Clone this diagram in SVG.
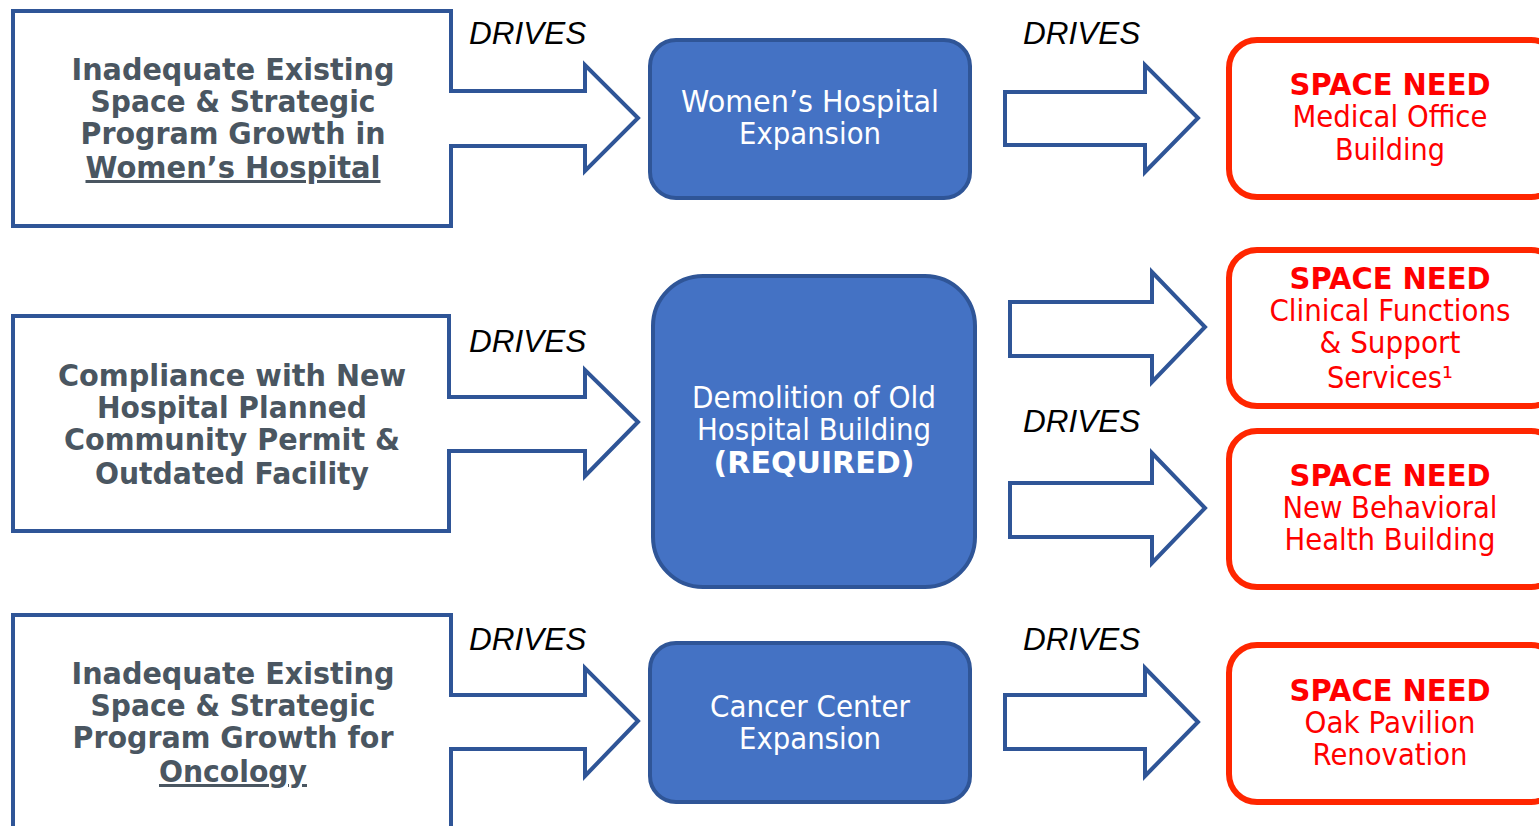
<svg xmlns="http://www.w3.org/2000/svg" width="1539" height="826" viewBox="0 0 1539 826">
<style>
.src{fill:#fff;stroke:#2F5597;stroke-width:4;stroke-linejoin:miter}
.arr{fill:#fff;stroke:#2F5597;stroke-width:4}
.blue{fill:#4472C4;stroke:#2F5597;stroke-width:4}
.red{fill:#fff;stroke:#FF2600;stroke-width:6}
.lt{font-family:"DejaVu Sans",Verdana,sans-serif;font-weight:bold;font-size:30px;fill:#4A5661;text-anchor:middle}
.bt{font-family:"DejaVu Sans",Verdana,sans-serif;font-size:30px;fill:#fff;text-anchor:middle}
.rt{font-family:"DejaVu Sans",Verdana,sans-serif;font-size:30px;fill:#FF0000;text-anchor:middle}
.b{font-weight:bold}
.dr{font-family:"Liberation Sans",Arial,sans-serif;font-style:italic;font-size:31.5px;fill:#000}
.u{text-decoration:underline}
</style>
<g id="connectors">
<path class="arr" d="M1005,92 L1145,92 L1145,65 L1198,118 L1145,172 L1145,145 L1005,145 Z"/>
<path class="arr" d="M1010,302 L1152,302 L1152,272 L1205,327 L1152,382 L1152,356 L1010,356 Z"/>
<path class="arr" d="M1010,483 L1152,483 L1152,453 L1205,508 L1152,563 L1152,537 L1010,537 Z"/>
<path class="arr" d="M1005,695 L1145,695 L1145,668 L1198,722 L1145,776 L1145,749 L1005,749 Z"/>
<text class="dr" x="469" y="44">DRIVES</text>
<text class="dr" x="469" y="352">DRIVES</text>
<text class="dr" x="469" y="650">DRIVES</text>
<text class="dr" x="1023" y="44">DRIVES</text>
<text class="dr" x="1023" y="432">DRIVES</text>
<text class="dr" x="1023" y="650">DRIVES</text>
</g>
<g id="src1">
<path class="src" d="M451,91 L451,11 L13,11 L13,226 L451,226 L451,146 L585,146 L585,171 L638,118 L585,65 L585,91 Z"/>
<text class="lt" x="233" y="80" textLength="323" lengthAdjust="spacingAndGlyphs">Inadequate Existing</text>
<text class="lt" x="233" y="112" textLength="285" lengthAdjust="spacingAndGlyphs">Space &amp; Strategic</text>
<text class="lt" x="233" y="144" textLength="305" lengthAdjust="spacingAndGlyphs">Program Growth in</text>
<text class="lt u" x="233" y="178" textLength="295" lengthAdjust="spacingAndGlyphs">Women’s Hospital</text>
</g>
<g id="src2">
<path class="src" d="M449,397 L449,316 L13,316 L13,531 L449,531 L449,451 L585,451 L585,476 L638,422 L585,370 L585,397 Z"/>
<text class="lt" x="232" y="386" textLength="348" lengthAdjust="spacingAndGlyphs">Compliance with New</text>
<text class="lt" x="232" y="418" textLength="270" lengthAdjust="spacingAndGlyphs">Hospital Planned</text>
<text class="lt" x="232" y="450" textLength="336" lengthAdjust="spacingAndGlyphs">Community Permit &amp;</text>
<text class="lt" x="232" y="484" textLength="274" lengthAdjust="spacingAndGlyphs">Outdated Facility</text>
</g>
<g id="src3">
<path class="src" d="M451,695 L451,615 L13,615 L13,832 L451,832 L451,749 L585,749 L585,776 L638,721 L585,668 L585,695 Z"/>
<text class="lt" x="233" y="684" textLength="323" lengthAdjust="spacingAndGlyphs">Inadequate Existing</text>
<text class="lt" x="233" y="716" textLength="285" lengthAdjust="spacingAndGlyphs">Space &amp; Strategic</text>
<text class="lt" x="233" y="748" textLength="321" lengthAdjust="spacingAndGlyphs">Program Growth for</text>
<text class="lt u" x="233" y="782" textLength="148" lengthAdjust="spacingAndGlyphs">Oncology</text>
</g>
<g id="womens">
<rect class="blue" x="650" y="40" width="320" height="158" rx="26"/>
<text class="bt" x="810" y="112" textLength="258" lengthAdjust="spacingAndGlyphs">Women’s Hospital</text>
<text class="bt" x="810" y="144" textLength="142" lengthAdjust="spacingAndGlyphs">Expansion</text>
</g>
<g id="demolition">
<rect class="blue" x="653" y="276" width="322" height="311" rx="50"/>
<text class="bt" x="814" y="408" textLength="244" lengthAdjust="spacingAndGlyphs">Demolition of Old</text>
<text class="bt" x="814" y="440" textLength="234" lengthAdjust="spacingAndGlyphs">Hospital Building</text>
<text class="bt b" x="814" y="473" textLength="201" lengthAdjust="spacingAndGlyphs">(REQUIRED)</text>
</g>
<g id="cancer">
<rect class="blue" x="650" y="643" width="320" height="159" rx="26"/>
<text class="bt" x="810" y="717" textLength="200" lengthAdjust="spacingAndGlyphs">Cancer Center</text>
<text class="bt" x="810" y="749" textLength="142" lengthAdjust="spacingAndGlyphs">Expansion</text>
</g>
<g id="need1">
<rect class="red" x="1229" y="40" width="330" height="157" rx="28"/>
<text class="rt b" x="1390" y="95" textLength="201" lengthAdjust="spacingAndGlyphs">SPACE NEED</text>
<text class="rt" x="1390" y="127" textLength="195" lengthAdjust="spacingAndGlyphs">Medical Office</text>
<text class="rt" x="1390" y="160" textLength="110" lengthAdjust="spacingAndGlyphs">Building</text>
</g>
<g id="need2">
<rect class="red" x="1229" y="250" width="330" height="156" rx="28"/>
<text class="rt b" x="1390" y="289" textLength="201" lengthAdjust="spacingAndGlyphs">SPACE NEED</text>
<text class="rt" x="1390" y="321" textLength="241" lengthAdjust="spacingAndGlyphs">Clinical Functions</text>
<text class="rt" x="1390" y="353" textLength="141" lengthAdjust="spacingAndGlyphs">&amp; Support</text>
<text class="rt" x="1390" y="388" textLength="126" lengthAdjust="spacingAndGlyphs">Services¹</text>
</g>
<g id="need3">
<rect class="red" x="1229" y="431" width="330" height="156" rx="28"/>
<text class="rt b" x="1390" y="486" textLength="201" lengthAdjust="spacingAndGlyphs">SPACE NEED</text>
<text class="rt" x="1390" y="518" textLength="215" lengthAdjust="spacingAndGlyphs">New Behavioral</text>
<text class="rt" x="1390" y="550" textLength="211" lengthAdjust="spacingAndGlyphs">Health Building</text>
</g>
<g id="need4">
<rect class="red" x="1229" y="645" width="330" height="157" rx="28"/>
<text class="rt b" x="1390" y="701" textLength="201" lengthAdjust="spacingAndGlyphs">SPACE NEED</text>
<text class="rt" x="1390" y="733" textLength="171" lengthAdjust="spacingAndGlyphs">Oak Pavilion</text>
<text class="rt" x="1390" y="765" textLength="155" lengthAdjust="spacingAndGlyphs">Renovation</text>
</g>
</svg>
